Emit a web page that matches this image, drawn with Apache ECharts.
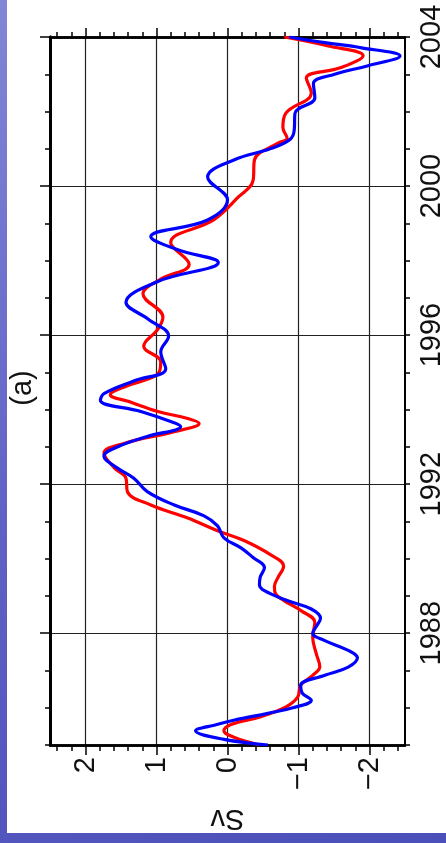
<!DOCTYPE html>
<html><head><meta charset="utf-8">
<script src="https://cdn.jsdelivr.net/npm/echarts@6/dist/echarts.min.js"></script>
<style>
html,body{margin:0;padding:0;width:446px;height:843px;overflow:hidden;}
body{background:linear-gradient(160deg,#8286d6 0%,#5d60c4 55%,#4b4fb9 100%);}
#paper{position:absolute;left:7px;top:0;width:439px;height:833px;background:#fff;}
#chart{position:absolute;left:0;top:0;width:446px;height:843px;}
</style></head><body>
<div id="paper"></div><div id="chart"></div>
<script>
// Blue curve (Sv vs year)
const blueYears = [1985.0,1985.15,1985.38,1985.55,1985.67,1985.85,1986.0,1986.2,1986.4,1986.6,1986.87,1987.09,1987.34,1987.54,1987.8,1988.0,1988.15,1988.4,1988.65,1988.87,1989.14,1989.31,1989.5,1989.76,1990.03,1990.29,1990.56,1990.88,1991.15,1991.44,1991.8,1992.16,1992.43,1992.75,1993.04,1993.28,1993.55,1993.68,1993.95,1994.25,1994.43,1994.77,1995.1,1995.55,1995.97,1996.43,1996.88,1997.44,1997.95,1998.29,1998.64,1999.09,1999.63,2000.24,2000.7,2001.0,2001.25,2001.5,2001.95,2002.37,2002.75,2003.0,2003.23,2003.49,2003.71,2003.85,2004.0];
const blueSv    = [-0.57,0.05,0.45,0.15,-0.1,-0.57,-0.92,-1.18,-1.05,-1.03,-1.37,-1.70,-1.83,-1.70,-1.37,-1.2,-1.24,-1.31,-1.18,-0.85,-0.52,-0.45,-0.46,-0.52,-0.36,-0.19,0.05,0.14,0.33,0.75,1.13,1.32,1.55,1.74,1.5,1.13,0.66,0.8,1.22,1.79,1.74,1.32,0.87,0.94,0.83,1.12,1.43,0.98,0.13,0.7,1.08,0.28,0.0,0.28,-0.09,-0.6,-0.88,-0.94,-0.95,-1.23,-1.21,-1.51,-1.98,-2.43,-1.89,-1.37,-0.87];
// Red curve (Sv vs year)
const redYears = [1985.0,1985.2,1985.38,1985.55,1985.76,1986.03,1986.29,1986.6,1986.87,1987.1,1987.45,1987.89,1988.29,1988.6,1988.87,1989.05,1989.25,1989.49,1989.8,1990.1,1990.48,1990.75,1991.09,1991.44,1991.8,1992.16,1992.43,1992.83,1993.1,1993.41,1993.63,1993.76,1993.95,1994.2,1994.4,1994.64,1994.96,1995.28,1995.7,1996.16,1996.48,1997.1,1997.5,1997.9,1998.48,1999.1,1999.7,2000.15,2000.7,2001.15,2001.28,2001.57,2001.95,2002.5,2002.9,2003.18,2003.5,2003.76,2004.0];
const redSv    = [-0.45,-0.1,0.05,-0.05,-0.47,-0.83,-0.99,-1.03,-1.2,-1.3,-1.25,-1.2,-1.23,-1.04,-0.8,-0.68,-0.66,-0.71,-0.79,-0.61,-0.24,0.14,0.56,1.08,1.41,1.43,1.59,1.74,1.45,0.75,0.4,0.56,0.98,1.36,1.65,1.41,0.98,0.94,1.18,0.98,0.91,1.19,0.94,0.54,0.8,0.19,-0.15,-0.36,-0.38,-0.71,-0.84,-0.78,-0.82,-1.18,-1.11,-1.6,-1.91,-1.42,-0.8];

const svMajorTicks = [-2,-1,0,1,2];
const svMinorTicks = [-2.4,-2.2,-1.8,-1.6,-1.4,-1.2,-0.8,-0.6,-0.4,-0.2,0.2,0.4,0.6,0.8,1.2,1.4,1.6,1.8,2.2,2.4];
const yearLabels = [1988,1992,1996,2000,2004];
const yearMajorTicks = [1988,1992,1996,2000,2004];
const svName = 'Sv';
const panelTitle = '(a)';

const FONT = '"Liberation Sans", Arial, sans-serif';
const black = '#000';
const fmtSv = v => v < 0 ? '\u2212' + Math.abs(v) : String(v);

function xAx(pos, ticks, len, withLabels, split, lineW) {
  return {
    type: 'value', position: pos, min: -2.5, max: 2.5, inverse: true,
    axisLine: { show: true, onZero: false, lineStyle: { color: black, width: lineW } },
    axisTick: { show: true, customValues: ticks, length: len, inside: false, lineStyle: { color: black, width: 1.5 } },
    axisLabel: withLabels ? { show: true, customValues: svMajorTicks, rotate: 90, margin: 12, fontSize: 29, fontFamily: FONT, color: '#111', formatter: fmtSv } : { show: false },
    splitLine: { show: split, lineStyle: { color: '#222', width: 1.2 } },
    name: withLabels ? svName : '', nameLocation: 'middle', nameGap: 58, nameRotate: 180,
    nameTextStyle: { fontSize: 29, fontFamily: FONT, color: '#111' }
  };
}
function yAx(pos, ticks, len, withLabels, split, lineW) {
  const a = {
    type: 'value', position: pos, min: 1985, max: 2004,
    axisLine: { show: true, onZero: false, lineStyle: { color: black, width: lineW } },
    axisTick: { show: true, length: len, inside: false, lineStyle: { color: black, width: 1.5 } },
    axisLabel: withLabels ? { show: true, customValues: yearLabels, rotate: 90, margin: 12, fontSize: 29, fontFamily: FONT, color: '#111', formatter: v => String(v) } : { show: false },
    splitLine: { show: split, lineStyle: { color: '#222', width: 1.2 } }
  };
  if (ticks) a.axisTick.customValues = ticks; else a.interval = 1;
  return a;
}

const chart = echarts.init(document.getElementById('chart'), null, { renderer: 'canvas' });
chart.setOption({
  animation: false,
  backgroundColor: 'transparent',
  grid: { left: 50, right: 40, top: 37, bottom: 98 },
  xAxis: [
    xAx('bottom', svMajorTicks, 10, true, true, 2.5),
    xAx('bottom', svMinorTicks, 6, false, false, 2.5),
    xAx('top', svMajorTicks, 9, false, false, 2.5),
    xAx('top', svMinorTicks, 5, false, false, 2.5)
  ],
  yAxis: [
    yAx('right', null, 5, true, false, 2),
    yAx('left', null, 5, false, false, 3),
    yAx('left', yearMajorTicks, 10, false, true, 3)
  ],
  graphic: [{
    type: 'text', x: 23, y: 388, rotation: Math.PI / 2, originX: 0, originY: 0,
    style: { text: panelTitle, x: 0, y: 0, fontSize: 29, fontFamily: FONT, fill: '#111', align: 'center', verticalAlign: 'middle' }
  }],
  series: [
    { type: 'line', xAxisIndex: 0, yAxisIndex: 0, showSymbol: false, smooth: 0.4,
      lineStyle: { color: '#ff0000', width: 3.2 }, data: redYears.map((y, i) => [redSv[i], y]) },
    { type: 'line', xAxisIndex: 0, yAxisIndex: 0, showSymbol: false, smooth: 0.4,
      lineStyle: { color: '#0000ff', width: 3.2 }, data: blueYears.map((y, i) => [blueSv[i], y]) }
  ]
});
</script></body></html>
